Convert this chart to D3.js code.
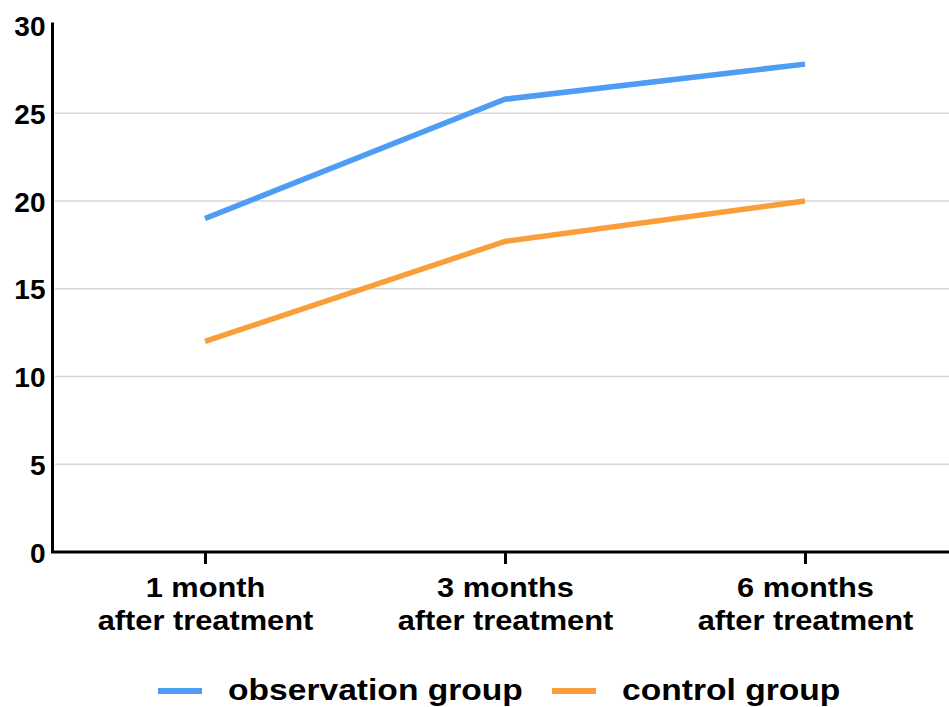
<!DOCTYPE html>
<html>
<head>
<meta charset="utf-8">
<script src="https://cdn.jsdelivr.net/npm/d3@7"></script>
<style>
  body { margin: 0; background: #fff; }
  text { font-family: "Liberation Sans", Arial, sans-serif; font-weight: bold; fill: #000; }
</style>
</head>
<body>
<svg id="chart"></svg>
<script>
var categories = ["1 month|after treatment", "3 months|after treatment", "6 months|after treatment"];
var observation = [19.0, 25.8, 27.8];
var control = [12.0, 17.7, 20.0];
var yTicks = [0, 5, 10, 15, 20, 25, 30];
var seriesNames = ["observation group", "control group"];
var seriesColors = ["#4e9cf4", "#fa9e3c"];

var width = 949, height = 707;
var svg = d3.select("#chart").attr("width", width).attr("height", height);

var x = d3.scalePoint().domain(categories).range([205, 805]);
var y = d3.scaleLinear().domain([0, 30]).range([552, 25.5]);

// gridlines
svg.append("g")
  .selectAll("line")
  .data(yTicks.filter(function (d) { return d > 0 && d < 30; }))
  .join("line")
  .attr("x1", 55).attr("x2", width)
  .attr("y1", function (d) { return y(d); })
  .attr("y2", function (d) { return y(d); })
  .style("stroke", "#d6d6d6")
  .style("stroke-width", 1.5);

// y axis
var yAxis = svg.append("g")
  .attr("transform", "translate(52.5,0)")
  .call(d3.axisLeft(y).tickValues(yTicks).tickSize(0).tickPadding(7));
yAxis.select(".domain").attr("d", "M0," + (y(30) - 3) + "V" + y(0)).style("stroke", "#000").style("stroke-width", 3);
yAxis.selectAll("text").style("font-size", "28px").attr("dy", "0.36em");

// x axis
var xAxis = svg.append("g")
  .attr("transform", "translate(0," + y(0) + ")")
  .call(d3.axisBottom(x).tickSize(12).tickFormat(""));
xAxis.select(".domain").attr("d", "M51," + 0 + "H" + width).style("stroke", "#000").style("stroke-width", 3);
xAxis.selectAll(".tick line").style("stroke", "#000").style("stroke-width", 3);
xAxis.selectAll(".tick").each(function (d) {
  var parts = d.split("|");
  var t = d3.select(this).append("g")
    .attr("transform", "scale(1.1,1)")
    .append("text")
    .attr("text-anchor", "middle")
    .style("font-size", "28px");
  t.append("tspan").attr("x", 0).attr("y", 45).text(parts[0]);
  t.append("tspan").attr("x", 0).attr("y", 78).text(parts[1]);
});

// lines
var line = d3.line()
  .x(function (d, i) { return x(categories[i]); })
  .y(function (d) { return y(d); });

[observation, control].forEach(function (series, i) {
  svg.append("path")
    .attr("d", line(series))
    .style("fill", "none")
    .style("stroke", seriesColors[i])
    .style("stroke-width", 5.5);
});

// legend
var legendX = [158, 552];
seriesNames.forEach(function (name, i) {
  var g = svg.append("g").attr("transform", "translate(" + legendX[i] + ",691)");
  g.append("line").attr("x1", 0).attr("x2", 44).attr("y1", 0).attr("y2", 0)
    .style("stroke", seriesColors[i]).style("stroke-width", 6);
  g.append("g").attr("transform", "translate(70,9) scale(1.12,1)")
    .append("text").style("font-size", "30px").text(name);
});
</script>
</body>
</html>
